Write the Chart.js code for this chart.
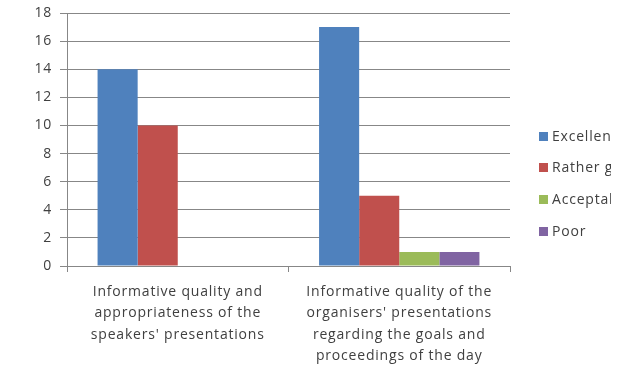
<!DOCTYPE html>
<html>
<head>
<meta charset="utf-8">
<script src="https://cdn.jsdelivr.net/npm/chart.js@4"></script>
<style>
  html, body { margin: 0; padding: 0; background: #fff; }
  #wrap { width: 643px; height: 366px; }
</style>
</head>
<body>
<div id="wrap"><canvas id="c" width="643" height="366"></canvas></div>
<script>
const categories = [
  ["Informative quality and", "appropriateness of the", "speakers' presentations"],
  ["Informative quality of the", "organisers' presentations", "regarding the goals and", "proceedings of the day"]
];
const seriesNames = ["Excellent", "Rather good", "Acceptable", "Poor"];
const excellent = [14, 17];
const ratherGood = [10, 5];
const acceptable = [0, 1];
const poor = [0, 1];
const yTicks = [0, 2, 4, 6, 8, 10, 12, 14, 16, 18];
const colors = ["#4F81BD", "#C0504D", "#9BBB59", "#8064A2"];

const FONT = "'Open Sans', sans-serif";
const TEXT = "#404040";
const GRID = "#878787";
const SPACING = "0.8px";

// Slightly tracked text for all labels
const tracking = {
  id: "tracking",
  beforeDraw(chart) { chart.ctx.letterSpacing = SPACING; }
};

// Legend drawn on the right, clipped by a narrow legend box
const sideLegend = {
  id: "sideLegend",
  afterDraw(chart) {
    const ctx = chart.ctx;
    const x0 = 539, ys = [136, 167, 199, 231], clipRight = 611;
    ctx.save();
    ctx.letterSpacing = SPACING;
    ctx.font = "14px " + FONT;
    ctx.textBaseline = "middle";
    chart.data.datasets.forEach((ds, i) => {
      ctx.fillStyle = ds.backgroundColor;
      ctx.fillRect(x0, ys[i] - 4, 9, 9);
    });
    ctx.beginPath();
    ctx.rect(x0, 0, clipRight - x0, chart.height);
    ctx.clip();
    ctx.fillStyle = TEXT;
    chart.data.datasets.forEach((ds, i) => {
      ctx.fillText(ds.label, x0 + 13, ys[i] + 1);
    });
    ctx.restore();
  }
};

const seriesValues = [excellent, ratherGood, acceptable, poor];

new Chart(document.getElementById("c"), {
  type: "bar",
  data: {
    labels: categories,
    datasets: seriesNames.map((name, i) => ({
      label: name,
      data: seriesValues[i],
      backgroundColor: colors[i],
      borderWidth: 0
    }))
  },
  options: {
    responsive: false,
    animation: false,
    devicePixelRatio: 1,
    layout: { padding: { top: 13, right: 133, left: 0, bottom: 0 } },
    datasets: { bar: { categoryPercentage: 0.724, barPercentage: 1.0 } },
    plugins: { legend: { display: false }, tooltip: { enabled: false } },
    scales: {
      x: {
        afterFit(s) { s.height = 100; },
        grid: {
          offset: true,
          drawOnChartArea: false,
          drawTicks: true,
          tickLength: 6,
          color: GRID
        },
        border: { color: GRID, width: 1 },
        ticks: {
          color: TEXT,
          font: { family: FONT, size: 14, lineHeight: 1.54 },
          padding: 9,
          maxRotation: 0,
          autoSkip: false
        }
      },
      y: {
        min: 0,
        max: 18,
        afterFit(s) { s.width = 67; s.paddingTop = 0; s.paddingBottom = 0; },
        afterBuildTicks(s) { s.ticks = yTicks.map(v => ({ value: v })); },
        grid: {
          color: GRID,
          drawTicks: true,
          tickLength: 7
        },
        border: { color: GRID, width: 1 },
        ticks: {
          color: TEXT,
          font: { family: FONT, size: 14 },
          padding: 8
        }
      }
    }
  },
  plugins: [tracking, sideLegend]
});
</script>
</body>
</html>
